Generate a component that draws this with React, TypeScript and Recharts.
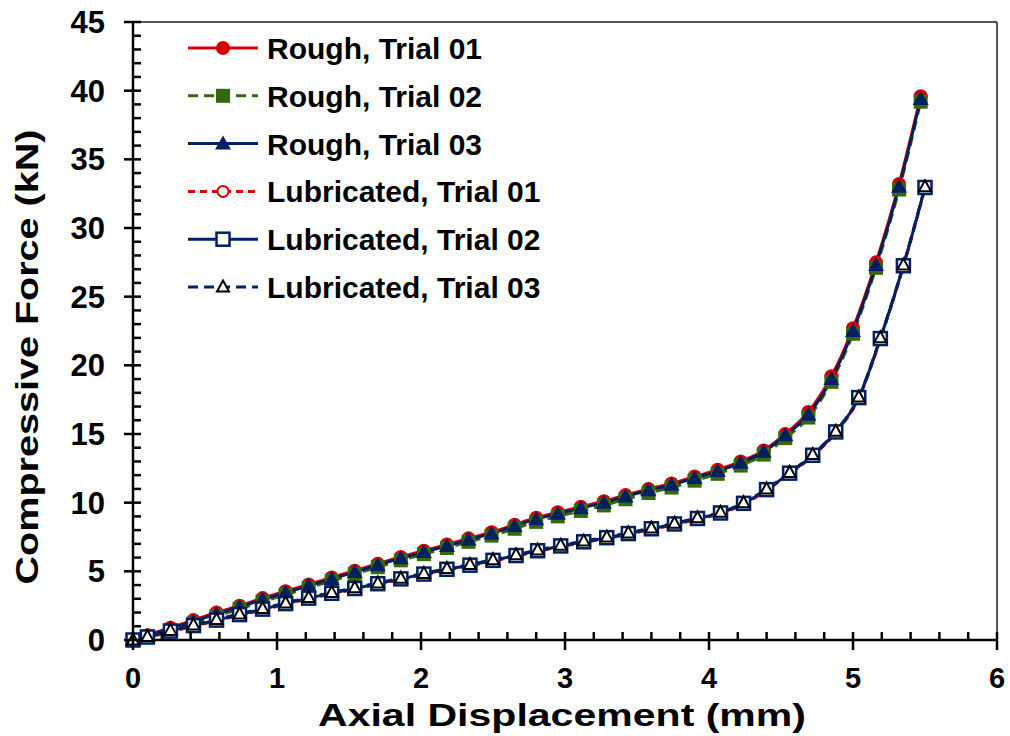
import React from "react";
import { LineChart, Line, XAxis, YAxis, Legend, ReferenceLine } from "recharts";

const RED = "#D40000";
const GREEN = "#36680F";
const NAVY = "#002060";
const FONT = "'Liberation Sans', Arial, sans-serif";

// displacement (mm) at each recorded point
const xRough = [0, 0.1, 0.26, 0.42, 0.58, 0.74, 0.9, 1.06, 1.22, 1.38, 1.54, 1.7, 1.86, 2.02, 2.18, 2.33, 2.49, 2.65, 2.8, 2.95, 3.11, 3.27, 3.42, 3.58, 3.74, 3.9, 4.06, 4.22, 4.38, 4.53, 4.69, 4.85, 5.0, 5.16, 5.32, 5.47];
const xLub = [0, 0.1, 0.26, 0.42, 0.58, 0.74, 0.9, 1.06, 1.22, 1.38, 1.54, 1.7, 1.86, 2.02, 2.18, 2.34, 2.5, 2.66, 2.81, 2.97, 3.13, 3.29, 3.44, 3.6, 3.76, 3.92, 4.08, 4.24, 4.4, 4.56, 4.72, 4.88, 5.04, 5.19, 5.35, 5.5];

// force (kN)
const rough01 = [0, 0.35, 0.9, 1.45, 2.0, 2.5, 3.05, 3.55, 4.05, 4.55, 5.05, 5.55, 6.05, 6.5, 6.95, 7.4, 7.85, 8.4, 8.9, 9.3, 9.7, 10.1, 10.55, 11.0, 11.4, 11.9, 12.4, 13.0, 13.8, 15.0, 16.6, 19.2, 22.7, 27.5, 33.2, 39.6];
const rough02 = [0, 0.2, 0.7, 1.2, 1.75, 2.25, 2.8, 3.3, 3.8, 4.3, 4.8, 5.3, 5.8, 6.25, 6.7, 7.15, 7.6, 8.1, 8.6, 9.0, 9.4, 9.8, 10.25, 10.7, 11.1, 11.6, 12.1, 12.7, 13.5, 14.7, 16.2, 18.8, 22.3, 27.1, 32.8, 39.2];
const rough03 = [0, 0.3, 0.85, 1.35, 1.9, 2.4, 2.95, 3.45, 3.95, 4.45, 4.95, 5.45, 5.95, 6.4, 6.85, 7.3, 7.75, 8.3, 8.8, 9.2, 9.6, 10.0, 10.45, 10.9, 11.3, 11.8, 12.3, 12.9, 13.7, 14.9, 16.4, 19.0, 22.5, 27.3, 33.0, 39.4];
const lub01 = [0, 0.2, 0.6, 1.0, 1.4, 1.8, 2.2, 2.6, 3.0, 3.35, 3.7, 4.05, 4.4, 4.75, 5.1, 5.4, 5.75, 6.1, 6.45, 6.8, 7.1, 7.4, 7.7, 8.05, 8.4, 8.8, 9.2, 9.9, 10.9, 12.1, 13.4, 15.1, 17.6, 21.9, 27.2, 32.9];
const lub02 = [0, 0.22, 0.65, 1.05, 1.45, 1.85, 2.25, 2.65, 3.05, 3.4, 3.75, 4.1, 4.45, 4.8, 5.15, 5.45, 5.8, 6.15, 6.5, 6.85, 7.15, 7.45, 7.75, 8.1, 8.45, 8.85, 9.25, 9.95, 10.95, 12.15, 13.45, 15.15, 17.65, 21.95, 27.25, 32.95];
const lub03 = [0, 0.25, 0.7, 1.1, 1.5, 1.9, 2.3, 2.7, 3.1, 3.45, 3.8, 4.15, 4.5, 4.85, 5.2, 5.5, 5.85, 6.2, 6.55, 6.9, 7.2, 7.5, 7.8, 8.15, 8.5, 8.9, 9.3, 10.0, 11.0, 12.2, 13.5, 15.2, 17.7, 22.0, 27.3, 33.0];

const xTicks = [0, 0.2, 0.4, 0.6, 0.8, 1, 1.2, 1.4, 1.6, 1.8, 2, 2.2, 2.4, 2.6, 2.8, 3, 3.2, 3.4, 3.6, 3.8, 4, 4.2, 4.4, 4.6, 4.8, 5, 5.2, 5.4, 5.6, 5.8, 6];
const yTicks = [0, 1, 2, 3, 4, 5, 6, 7, 8, 9, 10, 11, 12, 13, 14, 15, 16, 17, 18, 19, 20, 21, 22, 23, 24, 25, 26, 27, 28, 29, 30, 31, 32, 33, 34, 35, 36, 37, 38, 39, 40, 41, 42, 43, 44, 45];

type Kind = "circle" | "square" | "triangle" | "openCircle" | "openSquare" | "openTriangle";

const series: { name: string; xs: number[]; ys: number[]; color: string; dash?: string; kind: Kind }[] = [
  { name: "Rough, Trial 01", xs: xRough, ys: rough01, color: RED, kind: "circle" },
  { name: "Rough, Trial 02", xs: xRough, ys: rough02, color: GREEN, dash: "10 6", kind: "square" },
  { name: "Rough, Trial 03", xs: xRough, ys: rough03, color: NAVY, kind: "triangle" },
  { name: "Lubricated, Trial 01", xs: xLub, ys: lub01, color: RED, dash: "7 5", kind: "openCircle" },
  { name: "Lubricated, Trial 02", xs: xLub, ys: lub02, color: NAVY, kind: "openSquare" },
  { name: "Lubricated, Trial 03", xs: xLub, ys: lub03, color: NAVY, dash: "10 6", kind: "openTriangle" },
];

function Marker({ kind, cx, cy }: { kind: Kind; cx: number; cy: number }) {
  switch (kind) {
    case "circle":
      return <circle cx={cx} cy={cy} r={7} fill={RED} />;
    case "square":
      return <rect x={cx - 7} y={cy - 7} width={14} height={14} fill={GREEN} />;
    case "triangle":
      return <polygon points={`${cx},${cy - 8} ${cx + 8},${cy + 6} ${cx - 8},${cy + 6}`} fill={NAVY} />;
    case "openCircle":
      return <circle cx={cx} cy={cy} r={5.5} fill="#fff" stroke={RED} strokeWidth={2} />;
    case "openSquare":
      return <rect x={cx - 6.5} y={cy - 6.5} width={13} height={13} fill="#fff" stroke={NAVY} strokeWidth={2.5} />;
    default:
      return <polygon points={`${cx},${cy - 6.5} ${cx + 6},${cy + 4.5} ${cx - 6},${cy + 4.5}`} fill="#fff" stroke="#000" strokeWidth={2} />;
  }
}

function XTick(props: any) {
  const { x, y, payload } = props;
  const v = payload.value;
  const major = Math.abs(v - Math.round(v)) < 1e-6;
  return (
    <g>
      <line x1={x} x2={x} y1={y - 8} y2={major ? y + 10 : y} stroke="#000" strokeWidth={2.5} />
      {major && (
        <text x={x} y={y + 48} textAnchor="middle" fontFamily={FONT} fontWeight="bold" fontSize={29} fill="#000">
          {Math.round(v)}
        </text>
      )}
    </g>
  );
}

function YTick(props: any) {
  const { x, y, payload } = props;
  const v = payload.value;
  const major = v % 5 === 0;
  return (
    <g>
      <line x1={major ? x - 9 : x} x2={x + 8} y1={y} y2={y} stroke="#000" strokeWidth={2.5} />
      {major && (
        <text x={x - 28} y={y + 11} textAnchor="end" fontFamily={FONT} fontWeight="bold" fontSize={31} fill="#000">
          {v}
        </text>
      )}
    </g>
  );
}

function LegendBox() {
  return (
    <svg width={420} height={290}>
      {series.map((s, i) => {
        const cy = 28 + i * 47.8;
        return (
          <g key={s.name}>
            <line x1={8} x2={78} y1={cy} y2={cy} stroke={s.color} strokeWidth={3} strokeDasharray={s.dash} />
            <Marker kind={s.kind} cx={43} cy={cy} />
            <text x={87} y={cy + 11} fontFamily={FONT} fontWeight="bold" fontSize={30} fill="#000">
              {s.name}
            </text>
          </g>
        );
      })}
    </svg>
  );
}

export default function App() {
  return (
    <div style={{ position: "absolute", left: 0, top: 0, width: 1010, height: 736, background: "#fff" }}>
      <LineChart width={1010} height={736} margin={{ top: 22, right: 13, bottom: 0, left: 0 }}>
        <XAxis
          type="number"
          dataKey="x"
          domain={[0, 6]}
          ticks={xTicks}
          interval={0}
          height={96}
          tickSize={0}
          tickMargin={0}
          tickLine={false}
          tick={<XTick />}
          axisLine={{ stroke: "#000", strokeWidth: 2.5 }}
          label={{
            content: () => (
              <text x={562} y={726} textAnchor="middle" textLength={488} lengthAdjust="spacingAndGlyphs"
                fontFamily={FONT} fontWeight="bold" fontSize={31} fill="#000">
                Axial Displacement (mm)
              </text>
            ),
          }}
        />
        <YAxis
          type="number"
          domain={[0, 45]}
          ticks={yTicks}
          interval={0}
          width={133}
          tickSize={0}
          tickMargin={0}
          tickLine={false}
          tick={<YTick />}
          axisLine={{ stroke: "#000", strokeWidth: 2.5 }}
          label={{
            content: () => (
              <text x={38} y={357} transform="rotate(-90, 38, 357)" textAnchor="middle" textLength={455}
                lengthAdjust="spacingAndGlyphs" fontFamily={FONT} fontWeight="bold" fontSize={31} fill="#000">
                Compressive Force (kN)
              </text>
            ),
          }}
        />
        <ReferenceLine y={45} stroke="#555" strokeWidth={2} />
        <ReferenceLine x={6} stroke="#555" strokeWidth={2} />
        <Legend
          layout="vertical"
          align="center"
          verticalAlign="middle"
          wrapperStyle={{ left: 180, top: 20, width: 420 }}
          content={() => <LegendBox />}
        />
        {series.map((s) => (
          <Line
            key={s.name}
            name={s.name}
            data={s.xs.map((x, i) => ({ x, y: s.ys[i] }))}
            dataKey="y"
            type="monotone"
            stroke={s.color}
            strokeWidth={3}
            strokeDasharray={s.dash}
            isAnimationActive={false}
            dot={(p: any) => <Marker key={p.index} kind={s.kind} cx={p.cx} cy={p.cy} />}
            activeDot={false}
          />
        ))}
      </LineChart>
    </div>
  );
}
